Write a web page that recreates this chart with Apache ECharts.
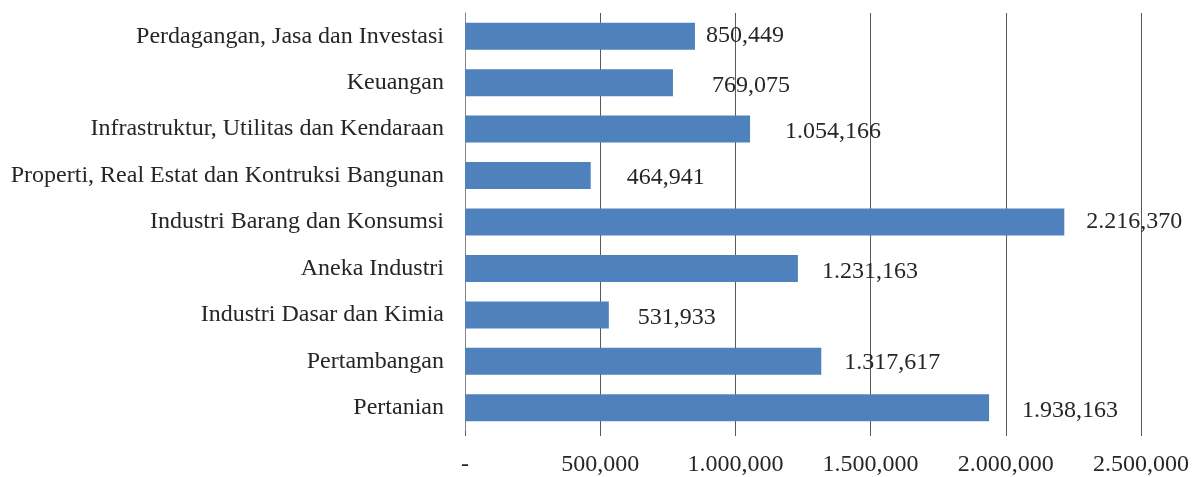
<!DOCTYPE html>
<html>
<head>
<meta charset="utf-8">
<script src="https://cdn.jsdelivr.net/npm/echarts@6/dist/echarts.min.js"></script>
<style>
  html, body { margin: 0; padding: 0; background: #fff; }
  #chart { width: 1195px; height: 477px; }
</style>
</head>
<body>
<div id="chart"></div>
<script>
// categories listed top to bottom as in the source
const categories = [
  "Perdagangan, Jasa dan Investasi",
  "Keuangan",
  "Infrastruktur, Utilitas dan Kendaraan",
  "Properti, Real Estat dan Kontruksi Bangunan",
  "Industri Barang dan Konsumsi",
  "Aneka Industri",
  "Industri Dasar dan Kimia",
  "Pertambangan",
  "Pertanian"
];
const values = [850449, 769075, 1054166, 464941, 2216370, 1231163, 531933, 1317617, 1938163];

// label nudges, the original labels are not all placed the same
const labelOffsets = [[6, -1], [34, 3], [30, 3], [31, 2], [17, 0], [19, 3], [24, 3], [18, 1], [28, 3]];

// source uses "." for millions and "," for thousands
function fmt(v) {
  if (v === 0) return "-";
  const m = Math.floor(v / 1e6);
  const rest = v % 1e6;
  const k = Math.floor(rest / 1000);
  const u = rest % 1000;
  const pad = n => String(n).padStart(3, "0");
  if (m > 0) return m + "." + pad(k) + "," + pad(u);
  return k + "," + pad(u);
}

const font = "'Liberation Serif', 'DejaVu Serif', serif";
const chart = echarts.init(document.getElementById("chart"));

chart.setOption({
  animation: false,
  textStyle: { fontFamily: font },
  grid: { left: 465, right: 54, top: 13, bottom: 46, containLabel: false },
  xAxis: {
    type: "value",
    min: 0,
    max: 2500000,
    interval: 500000,
    axisLine: { show: false },
    axisTick: { show: true, length: 5, lineStyle: { color: "#595959" } },
    splitLine: { show: true, lineStyle: { color: "#595959", width: 1 } },
    axisLabel: {
      margin: 22,
      fontSize: 24,
      fontFamily: font,
      color: "#262626",
      formatter: v => fmt(v)
    }
  },
  yAxis: {
    type: "category",
    data: categories.slice().reverse(),
    axisLine: { show: true, lineStyle: { color: "#868686", width: 1 } },
    axisTick: { show: false },
    axisLabel: { margin: 21, fontSize: 24, fontFamily: font, color: "#262626" }
  },
  series: [{
    type: "bar",
    barWidth: 27,
    itemStyle: { color: "#4F81BD" },
    data: values.map((v, i) => ({
      value: v,
      label: { offset: labelOffsets[i] }
    })).reverse(),
    label: {
      show: true,
      position: "right",
      distance: 5,
      fontSize: 24,
      fontFamily: font,
      color: "#262626",
      formatter: p => fmt(p.value)
    },
    z: 3
  }]
});
</script>
</body>
</html>
